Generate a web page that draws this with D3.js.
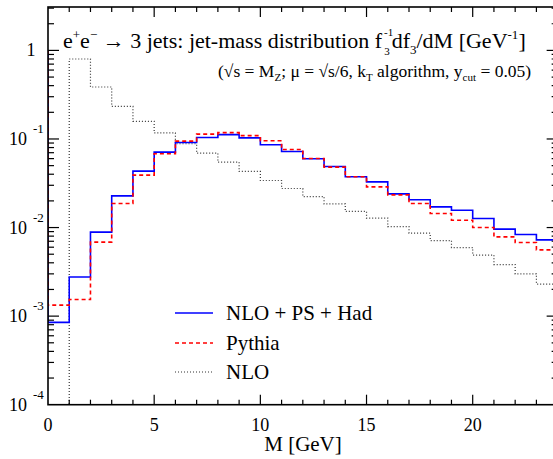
<!DOCTYPE html>
<html>
<head>
<meta charset="utf-8">
<script src="https://cdn.jsdelivr.net/npm/d3@7"></script>
<style>
  body { margin: 0; background: #fff; }
  text { font-family: "Liberation Serif", "DejaVu Serif", serif; fill: #000; }
</style>
</head>
<body>
<div id="chart"></div>
<script>
// bin edges: 1 GeV bins from 0 to 24
const binEdges = d3.range(0, 25);

// histogram contents, one per bin
const nloPsHad = [0.00085, 0.00277, 0.00887, 0.0228, 0.0434, 0.0711, 0.0912, 0.104, 0.112, 0.103,
  0.086, 0.0722, 0.0597, 0.0489, 0.0374, 0.0328, 0.024, 0.0206, 0.0171, 0.0157,
  0.01265, 0.0096, 0.00834, 0.00726];
const pythia = [0.00133, 0.00154, 0.00684, 0.0187, 0.0391, 0.068, 0.0946, 0.1135, 0.118, 0.109,
  0.0955, 0.076, 0.0602, 0.0481, 0.0374, 0.0288, 0.0234, 0.0187, 0.0144, 0.0121,
  0.01, 0.00785, 0.00677, 0.0056];
const nlo = [0, 0.80, 0.386, 0.233, 0.158, 0.117, 0.0883, 0.0693, 0.0548, 0.043,
  0.034, 0.0276, 0.0224, 0.0185, 0.0152, 0.0128, 0.01026, 0.00864, 0.00713, 0.00594,
  0.00488, 0.00382, 0.003, 0.0023];
// level the hadron-level curves come down from at M = 0
const startLevel = 1;

const xTicks = [0, 5, 10, 15, 20];
const yDecades = [-4, -3, -2, -1, 0];
const legendLabels = ["NLO + PS + Had", "Pythia", "NLO"];

var W = 553, H = 459;
var margin = { top: 7, left: 48 };
var yMin = 1e-4, yMax = Math.pow(10, 0.49);

var svg = d3.select("#chart").append("svg")
  .attr("width", W)
  .attr("height", H);

var x = d3.scaleLinear().domain([0, 24]).range([margin.left, margin.left + 24 * 21.235]);
var y = d3.scaleLog().domain([yMin, yMax]).range([404.7, margin.top]);

var x0 = x.range()[0], x1 = x.range()[1];
var yB = y.range()[0], yT = y.range()[1];

svg.append("clipPath").attr("id", "clip")
  .append("rect").attr("x", x0).attr("y", yT).attr("width", x1 - x0).attr("height", yB - yT);

///////////////////////////// histograms

function steps(vals, start) {
  var pts = [];
  if (start != null) pts.push([0, start]);
  vals.forEach(function (v, i) {
    pts.push([binEdges[i], v]);
    pts.push([binEdges[i + 1], v]);
  });
  return pts;
}

var line = d3.line()
  .x(function (d) { return x(d[0]); })
  .y(function (d) { return d[1] > 0 ? y(d[1]) : yB + 5; });

var plot = svg.append("g").attr("clip-path", "url(#clip)");

plot.append("path")
  .datum(steps(nlo, null))
  .attr("fill", "none")
  .attr("stroke", "#333")
  .attr("stroke-width", 1.2)
  .attr("stroke-dasharray", "1,2")
  .attr("d", line);

plot.append("path")
  .datum(steps(nloPsHad, startLevel))
  .attr("fill", "none")
  .attr("stroke", "#0000ff")
  .attr("stroke-width", 1.6)
  .attr("d", line);

plot.append("path")
  .datum(steps(pythia, startLevel))
  .attr("fill", "none")
  .attr("stroke", "#ff0000")
  .attr("stroke-width", 1.6)
  .attr("stroke-dasharray", "4,3")
  .attr("d", line);

///////////////////////////// frame + ticks

var axes = svg.append("g").attr("stroke", "#000").attr("fill", "none");

axes.append("rect")
  .attr("x", x0).attr("y", yT)
  .attr("width", x1 - x0).attr("height", yB - yT)
  .attr("stroke-width", 1.6);

d3.range(1, 24).forEach(function (m) {
  var len = m % 5 === 0 ? 10 : 5;
  axes.append("line").attr("x1", x(m)).attr("x2", x(m)).attr("y1", yB).attr("y2", yB - len).attr("stroke-width", 1.2);
  axes.append("line").attr("x1", x(m)).attr("x2", x(m)).attr("y1", yT).attr("y2", yT + len).attr("stroke-width", 1.2);
});

yDecades.forEach(function (p) {
  d3.range(1, 10).forEach(function (k) {
    var v = k * Math.pow(10, p);
    if (v <= yMin || v > yMax) return;
    var len = k === 1 ? 11 : 6;
    axes.append("line").attr("x1", x0).attr("x2", x0 + len).attr("y1", y(v)).attr("y2", y(v)).attr("stroke-width", 1.2);
    axes.append("line").attr("x1", x1).attr("x2", x1 - len).attr("y1", y(v)).attr("y2", y(v)).attr("stroke-width", 1.2);
  });
});

///////////////////////////// tick labels

svg.selectAll(".xlab")
  .data(xTicks)
  .enter().append("text")
  .attr("class", "xlab")
  .attr("x", function (d) { return x(d); })
  .attr("y", 431)
  .attr("text-anchor", "middle")
  .attr("font-size", 18)
  .text(function (d) { return d; });

yDecades.forEach(function (p) {
  var yy = y(Math.pow(10, p));
  if (p === 0) {
    svg.append("text").attr("x", 31).attr("y", yy + 6).attr("text-anchor", "middle").attr("font-size", 18).text("1");
    return;
  }
  svg.append("text").attr("x", 27).attr("y", yy + 6).attr("text-anchor", "end").attr("font-size", 18).text("10");
  svg.append("text").attr("x", 33).attr("y", yy - 6).attr("font-size", 13).text(p);
});

svg.append("text")
  .attr("x", 303).attr("y", 451)
  .attr("text-anchor", "middle")
  .attr("font-size", 21)
  .text("M [GeV]");

///////////////////////////// titles

var title = svg.append("text").attr("x", 63).attr("y", 48).attr("font-size", 22);
title.append("tspan").text("e");
title.append("tspan").attr("dy", -9).attr("font-size", 13).text("+");
title.append("tspan").attr("dy", 9).text("e");
title.append("tspan").attr("dy", -9).attr("font-size", 13).text("\u2212");
title.append("tspan").attr("dy", 9).text(" \u2192 3 jets: jet-mass distribution f");
title.append("tspan").attr("dy", -12).attr("dx", 2).attr("font-size", 11).text("-1");
title.append("tspan").attr("dy", 19).attr("dx", -9).attr("font-size", 11).text("3");
title.append("tspan").attr("dy", -7).attr("dx", 2).text("df");
title.append("tspan").attr("dy", 6).attr("font-size", 13).text("3");
title.append("tspan").attr("dy", -6).text("/dM [GeV");
title.append("tspan").attr("dy", -9).attr("font-size", 13).text("-1");
title.append("tspan").attr("dy", 9).text("]");

var sub = svg.append("text").attr("x", 218).attr("y", 77).attr("font-size", 17.5);
sub.append("tspan").text("(\u221As = M");
sub.append("tspan").attr("dy", 4).attr("font-size", 11).text("Z");
sub.append("tspan").attr("dy", -4).text("; \u03BC = \u221As/6, k");
sub.append("tspan").attr("dy", 4).attr("font-size", 11).text("T");
sub.append("tspan").attr("dy", -4).text(" algorithm, y");
sub.append("tspan").attr("dy", 4).attr("font-size", 11).text("cut");
sub.append("tspan").attr("dy", -4).text(" = 0.05)");

///////////////////////////// legend

var legendStyles = [
  { color: "#0000ff", dash: null, w: 1.6 },
  { color: "#ff0000", dash: "4,3", w: 1.4 },
  { color: "#333", dash: "1,2", w: 1.2 }
];
var legendY = [313, 343, 372];

legendLabels.forEach(function (lab, i) {
  var s = legendStyles[i];
  svg.append("line")
    .attr("x1", 175).attr("x2", 213)
    .attr("y1", legendY[i]).attr("y2", legendY[i])
    .attr("stroke", s.color)
    .attr("stroke-width", s.w)
    .attr("stroke-dasharray", s.dash);
  svg.append("text")
    .attr("x", 226).attr("y", legendY[i] + 7)
    .attr("font-size", 21)
    .text(lab);
});
</script>
</body>
</html>
